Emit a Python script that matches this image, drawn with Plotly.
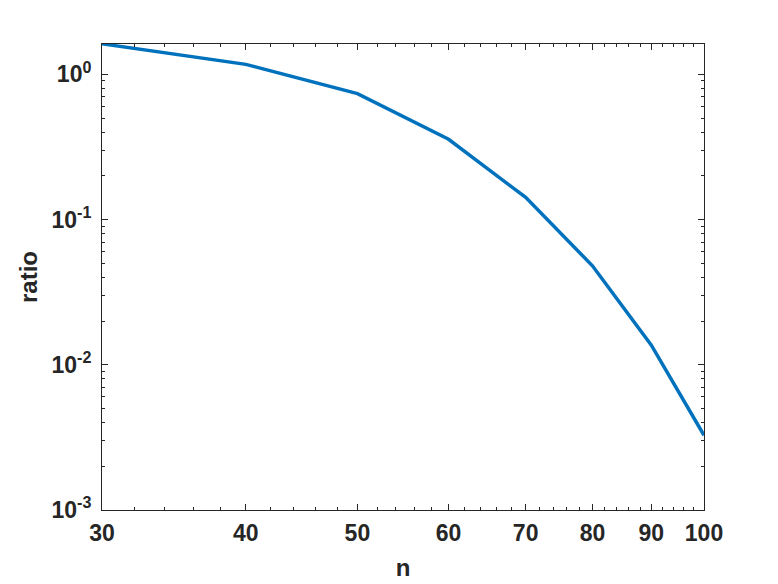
import plotly.graph_objects as go
import numpy as np

n = [30, 40, 50, 60, 70, 80, 90, 100]
ratio = [1.62, 1.17, 0.736, 0.357, 0.142, 0.048, 0.01364, 0.00327]

x_ticks = [30, 40, 50, 60, 70, 80, 90, 100]
x_minor = [32, 34, 36, 38, 42, 44, 46, 48, 52, 54, 56, 58, 62, 64, 66, 68,
           72, 74, 76, 78, 82, 84, 86, 88, 92, 94, 96, 98]
y_ticks = [1e-3, 1e-2, 1e-1, 1e0]
y_labels = ["10<sup>-3</sup>", "10<sup>-2</sup>", "10<sup>-1</sup>", "10<sup>0</sup>"]
y_minor = [m * 10.0 ** e for e in (-3, -2, -1, 0) for m in range(2, 10)]

fig = go.Figure()
fig.add_trace(go.Scatter(x=n, y=ratio, mode="lines",
                         line=dict(color="#0072BD", width=3.5)))

fam = "Liberation Sans, Arial, sans-serif"
font = dict(family=fam, size=23, color="#262626", weight="bold")
tfont = dict(family=fam, size=24, color="#262626", weight="bold")

fig.update_layout(
    width=778, height=584,
    margin=dict(l=93.5, r=82, t=35.7, b=82),
    paper_bgcolor="white", plot_bgcolor="white",
    showlegend=False,
    font=font,
    xaxis=dict(
        type="log", range=[np.log10(30), 2],
        tickmode="array", tickvals=x_ticks, ticktext=[str(v) for v in x_ticks],
        ticks="inside", ticklen=6, tickcolor="#262626", tickwidth=1,
        showline=True, linecolor="#262626", linewidth=1, mirror="allticks",
        showgrid=False, zeroline=False,
        tickfont=font, ticklabelstandoff=2,
        minor=dict(tickmode="array", tickvals=x_minor, ticks="inside", ticklen=3,
                   tickcolor="#262626", showgrid=False),
        title=dict(text="n", font=tfont, standoff=14),
    ),
    yaxis=dict(
        type="log", range=[-3, np.log10(1.616)],
        tickmode="array", tickvals=y_ticks, ticktext=y_labels,
        ticks="inside", ticklen=6, tickcolor="#262626", tickwidth=1,
        showline=True, linecolor="#262626", linewidth=1, mirror="allticks",
        showgrid=False, zeroline=False,
        tickfont=font, ticklabelstandoff=5,
        minor=dict(tickmode="array", tickvals=y_minor, ticks="inside", ticklen=3,
                   tickcolor="#262626", showgrid=False),
        title=dict(text="ratio", font=tfont, standoff=7),
    ),
)

fig.write_html("out.html")
